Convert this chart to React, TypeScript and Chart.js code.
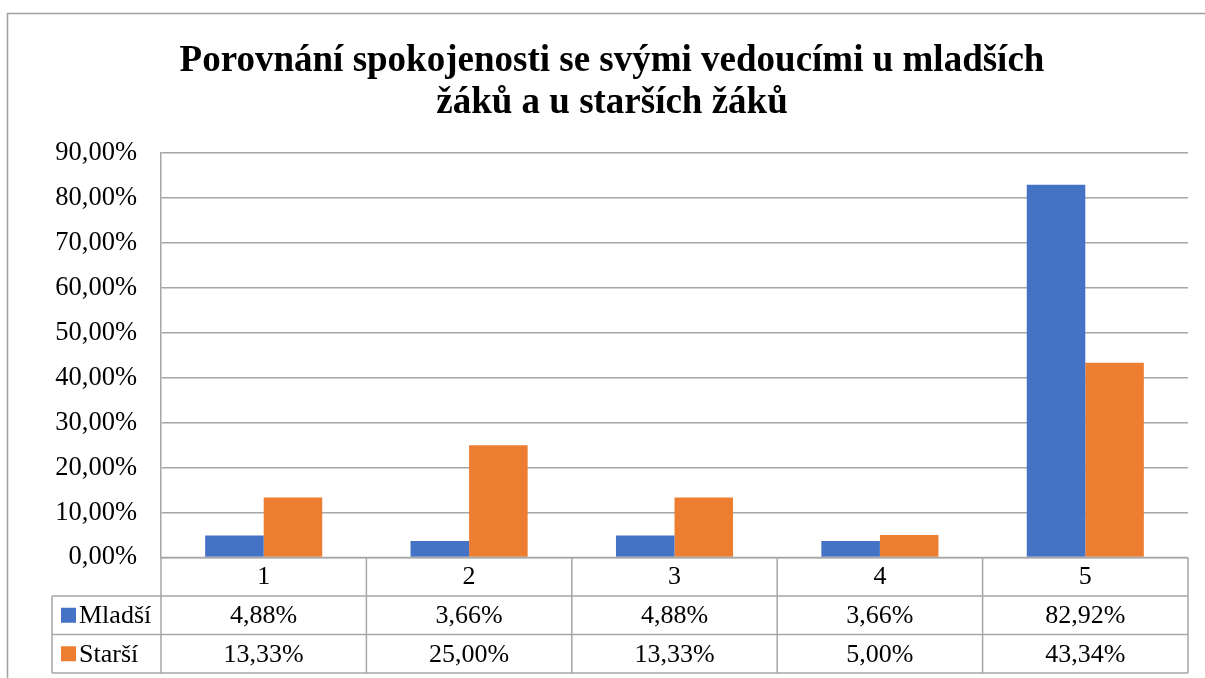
import React, { useEffect, useRef } from "react";
import { Chart, registerables } from "chart.js";

Chart.register(...registerables);

const titleLines = ["Porovnání spokojenosti se svými vedoucími u mladších", "žáků a u starších žáků"];
const categories = ["1", "2", "3", "4", "5"];
const seriesNames = ["Mladší", "Starší"];
const mladsi = [4.88, 3.66, 4.88, 3.66, 82.92];
const starsi = [13.33, 25.0, 13.33, 5.0, 43.34];
const seriesColors = ["#4472C4", "#ED7D31"];
const yMax = 90;
const yStep = 10;

const FONT = "'Liberation Serif', 'Times New Roman', serif";
const LINE = "#a6a6a6";

const fmt = (v: number) => v.toFixed(2).replace(".", ",") + "%";

const tablePlugin = {
  id: "tablePlugin",
  afterDraw(chart: any) {
    const ctx = chart.ctx as CanvasRenderingContext2D;
    const area = chart.chartArea;
    const xScale = chart.scales.x;
    const rowH = 38.5;
    const top = area.bottom;
    const r1 = top + rowH;
    const r2 = r1 + rowH;
    const r3 = r2 + rowH;
    const legendLeft = 52;
    ctx.save();
    // outer border
    ctx.strokeStyle = "#a0a0a0";
    ctx.lineWidth = 1.5;
    ctx.beginPath();
    ctx.moveTo(7.5, 700);
    ctx.lineTo(7.5, 13.5);
    ctx.lineTo(1210, 13.5);
    ctx.stroke();

    // title
    ctx.fillStyle = "#000";
    ctx.font = `bold 37px ${FONT}`;
    ctx.textAlign = "center";
    ctx.textBaseline = "alphabetic";
    ctx.fillText(titleLines[0], 612, 71);
    ctx.fillText(titleLines[1], 612, 113);

    // table lines
    ctx.strokeStyle = LINE;
    ctx.lineWidth = 1.5;
    ctx.beginPath();
    ctx.moveTo(area.left, top);
    ctx.lineTo(area.right, top);
    [r1, r2, r3].forEach((y) => {
      ctx.moveTo(legendLeft, y);
      ctx.lineTo(area.right, y);
    });
    const n = categories.length;
    const colW = (area.right - area.left) / n;
    for (let i = 0; i <= n; i++) {
      const x = area.left + i * colW;
      ctx.moveTo(x, top);
      ctx.lineTo(x, r3);
    }
    ctx.moveTo(legendLeft, r1);
    ctx.lineTo(legendLeft, r3);
    ctx.stroke();

    // row contents
    const rows = [r1, r2];
    chart.data.datasets.forEach((ds: any, di: number) => {
      const yc = rows[di] + rowH / 2;
      ctx.fillStyle = ds.backgroundColor;
      ctx.fillRect(61, yc - 7.5, 15, 15);
      ctx.fillStyle = "#000";
      ctx.font = `26px ${FONT}`;
      ctx.textAlign = "left";
      ctx.textBaseline = "middle";
      ctx.fillText(ds.label, 79, yc + 1);
      ctx.textAlign = "center";
      ds.data.forEach((v: number, i: number) => {
        const x = xScale.getPixelForValue(i);
        ctx.fillText(fmt(v), x, yc + 1);
      });
    });
    ctx.restore();
  },
};

export default function App() {
  const ref = useRef<HTMLCanvasElement>(null);
  useEffect(() => {
    if (!ref.current) return;
    const chart = new Chart(ref.current, {
      type: "bar",
      data: {
        labels: categories,
        datasets: [
          { label: seriesNames[0], data: mladsi, backgroundColor: seriesColors[0] },
          { label: seriesNames[1], data: starsi, backgroundColor: seriesColors[1] },
        ],
      },
      options: {
        responsive: false,
        animation: false,
        devicePixelRatio: 1,
        layout: { padding: { top: 153, left: 0, right: 17, bottom: 82 } },
        plugins: {
          legend: { display: false },
          title: { display: false },
          tooltip: { enabled: false },
        },
        datasets: { bar: { categoryPercentage: 0.57, barPercentage: 1.0 } },
        scales: {
          x: {
            type: "category",
            grid: { display: false, drawTicks: false },
            border: { display: false },
            ticks: { color: "#000", font: { family: FONT, size: 26 }, padding: 4, maxRotation: 0 },
            afterFit: (axis: any) => {
              axis.height = 38.5;
            },
          },
          y: {
            min: 0,
            max: yMax,
            ticks: {
              stepSize: yStep,
              color: "#000",
              font: { family: FONT, size: 26.5 },
              padding: 24,
              callback: (v: any) => fmt(Number(v)),
            },
            grid: { color: LINE, lineWidth: 1.5, drawTicks: false },
            border: { display: true, color: LINE, width: 1.5 },
            afterFit: (axis: any) => {
              axis.width = 161;
            },
          },
        },
      },
      plugins: [tablePlugin],
    } as any);
    return () => chart.destroy();
  }, []);
  return (
    <div style={{ position: "fixed", left: 0, top: 0, width: 1205, height: 678, background: "#fff" }}>
      <canvas ref={ref} width={1205} height={678} style={{ display: "block" }} />
    </div>
  );
}
